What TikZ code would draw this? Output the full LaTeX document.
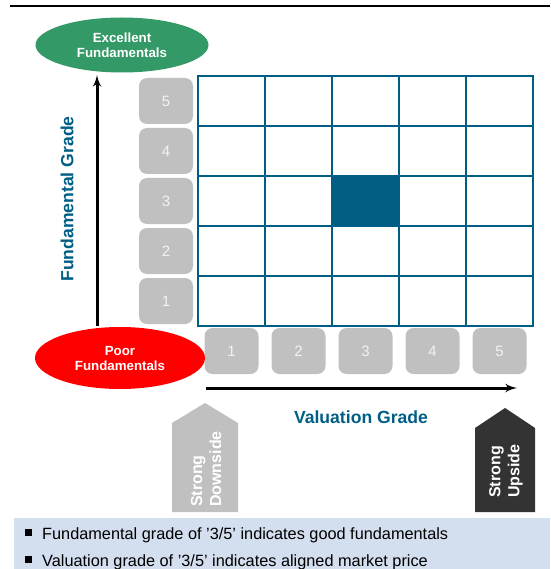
\documentclass[tikz,border=0pt]{standalone}
\usepackage{fontspec}
\setmainfont{Liberation Sans}
\usetikzlibrary{arrows,shapes.geometric}
\definecolor{gridblue}{RGB}{0,94,133}
\definecolor{goodgreen}{RGB}{51,153,102}
\definecolor{badred}{RGB}{255,0,0}
\definecolor{boxgray}{RGB}{192,192,192}
\definecolor{boxtext}{RGB}{242,242,242}
\definecolor{darkbox}{RGB}{51,51,51}
\definecolor{notefill}{RGB}{211,222,238}
\tikzset{
    cell/.style={rectangle,draw=gridblue,line width=2.5pt,minimum width=67pt,minimum height=50pt,inner sep=0pt},
    gradebox/.style={rectangle,rounded corners=8pt,fill=boxgray,text=boxtext,minimum width=54pt,minimum height=46pt,font=\fontsize{15}{15}\selectfont},
    blob/.style={ellipse,text=white,align=center,inner sep=0pt,font=\fontsize{13.3}{15}\selectfont\bfseries},
    axislabel/.style={text=gridblue,font=\fontsize{17.6}{17}\selectfont\bfseries},
    tag/.style={text=white,align=left,rotate=90,font=\fontsize{16}{19}\selectfont\bfseries},
    note/.style={anchor=base west,inner sep=0pt,font=\fontsize{16.3}{18}\selectfont},
    edge/.style={->,> = latex',line width=3pt}
}

\begin{document}
\begin{tikzpicture} [x=1pt,y=-1pt]
\useasboundingbox (0,0) rectangle (550,569);

\draw[line width=2pt] (10,6) -- (550,6);

\foreach \i in {1,...,5}
  \foreach \j in {1,...,5}
    \node[cell] (c\i\j) at ({164.5+67*\i},{351-50*\j}) {};
\node[cell,fill=gridblue] (c33) at (365.5,201) {};

\foreach \j in {1,...,5}
  \node[gradebox] (f\j) at (166,{351-50*\j}) {\j};
\foreach \i in {1,...,5}
  \node[gradebox] (v\i) at ({164.5+67*\i},351) {\i};

\node[blob,fill=goodgreen,minimum width=173pt,minimum height=55pt] (exc) at (122,45) {Excellent\\Fundamentals};
\node[blob,fill=badred,minimum width=170pt,minimum height=62pt] (poor) at (120,358) {Poor\\Fundamentals};

\coordinate (ylow) at (97,326);
\coordinate (yhigh) at (97,75);
\coordinate (xlow) at (206,388);
\coordinate (xhigh) at (517,388);
\draw[edge] (ylow) -- (yhigh);
\draw[edge] (xlow) -- (xhigh);

\node[axislabel,rotate=90] (fg) at (67,199) {Fundamental Grade};
\node[axislabel] (vg) at (361,417) {Valuation Grade};

\fill[boxgray] (172,512) -- (172,423) -- (205,403) -- (238,423) -- (238,512) -- cycle;
\fill[darkbox] (475,512) -- (475,428) -- (505,408) -- (535,428) -- (535,512) -- cycle;
\node[tag] (down) at (206,469) {Strong\\Downside};
\node[tag] (up) at (506,471) {Strong\\Upside};

\fill[notefill] (14,518) rectangle (550,569);
\node[note] (n1) at (25,539) {\rule[3pt]{7pt}{7pt}\hspace{10pt}Fundamental grade of '3/5' indicates good fundamentals};
\node[note] (n2) at (25,566) {\rule[3pt]{7pt}{7pt}\hspace{10pt}Valuation grade of '3/5' indicates aligned market price};

\end{tikzpicture}
\end{document}
